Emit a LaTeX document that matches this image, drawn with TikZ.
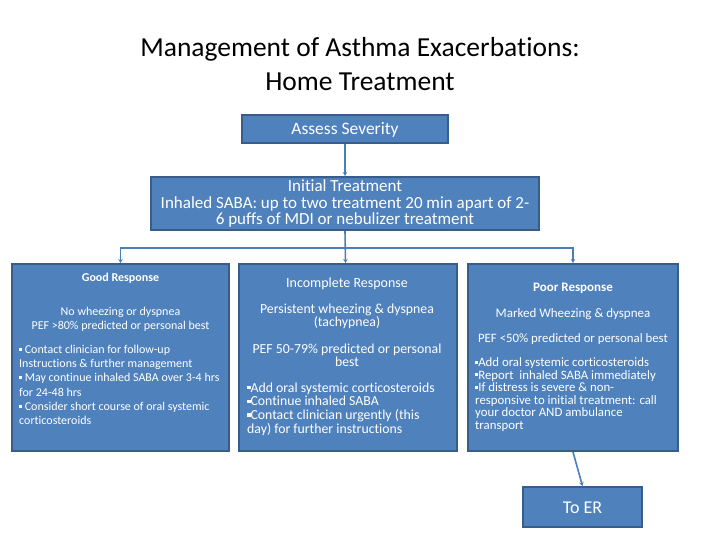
\documentclass[tikz,border=0pt]{standalone}
\usepackage{fontspec}
\setmainfont{Carlito}[Ligatures=NoCommon]
\usetikzlibrary{arrows.meta}
\definecolor{boxfill}{HTML}{4F81BD}
\definecolor{boxline}{HTML}{385D8A}
\definecolor{connc}{HTML}{4A7EBB}
\newcommand{\bsq}{\raisebox{0.22em}{\rule{0.24em}{0.24em}}}
\begin{document}
\begin{tikzpicture}[x=1pt,y=-1pt,
  box/.style={draw=boxline, fill=boxfill, line width=2.4pt, inner sep=0pt, rectangle},
  conn/.style={draw=connc, line width=1.6pt},
  arr/.style={conn, -{Stealth[length=4pt,width=4.5pt]}},
  txt/.style={text=white, inner sep=0pt, anchor=base},
  ltxt/.style={text=white, inner sep=0pt, anchor=base west, align=left},
  ctxt/.style={text=white, inner sep=0pt, anchor=base, align=center}
]
\useasboundingbox (0,0) rectangle (720,540);

% title (anchor base = baseline of the last line)
\node[anchor=base, align=center, inner sep=0pt, font=\fontsize{27.5}{34}\selectfont] (title) at (360,91) {Management of Asthma Exacerbations:\\Home Treatment};

% boxes
\node[box, minimum width=205.6pt, minimum height=27.6pt] (assess) at (345,129) {};
\node[box, minimum width=387.6pt, minimum height=52.6pt] (initial) at (345,203.5) {};
\node[box, minimum width=216.6pt, minimum height=186.6pt] (good) at (120.5,357.5) {};
\node[box, minimum width=217.6pt, minimum height=186.6pt] (incomplete) at (348,357.5) {};
\node[box, minimum width=209.6pt, minimum height=186.6pt] (poor) at (573,357.5) {};
\node[box, minimum width=118.6pt, minimum height=39.6pt] (toer) at (582.5,507) {};

% texts in boxes
\node[txt, font=\fontsize{17.5}{20}\selectfont] (assesst) at (345,134.5) {Assess Severity};
\node[ctxt, font=\fontsize{17}{16.5}\selectfont] (initialt) at (345,224.5) {Initial Treatment\\Inhaled SABA: up to two treatment 20 min apart of 2-\\6 puffs of MDI or nebulizer treatment};
\node[txt, font=\fontsize{18}{20}\selectfont] (toert) at (582.5,513) {To ER};

% good
\node[txt, font=\bfseries\fontsize{12}{14}\selectfont] (goodh) at (120.5,281) {Good Response};
\node[ctxt, font=\fontsize{12}{14}\selectfont] (goodc) at (120.5,329) {No wheezing or dyspnea\\PEF {>}80\% predicted or personal best};
\node[ltxt, font=\fontsize{12}{14.2}\selectfont] (goodb) at (19,424.5) {\bsq\ Contact clinician for follow-up\\Instructions \& further management\\\bsq\ May continue inhaled SABA over 3-4 hrs\\for 24-48 hrs\\\bsq\ Consider short course of oral systemic\\corticosteroids};

% incomplete
\node[txt, font=\fontsize{14}{14}\selectfont] (inch) at (347,287) {Incomplete Response};
\node[ctxt, font=\fontsize{13.8}{13}\selectfont] (incc1) at (347,326.5) {Persistent wheezing \& dyspnea\\(tachypnea)};
\node[ctxt, font=\fontsize{13.8}{13}\selectfont] (incc2) at (347,366) {PEF 50-79\% predicted or personal\\best};
\node[ltxt, font=\fontsize{13.8}{13.8}\selectfont] (incb) at (247,433.5) {\bsq Add oral systemic corticosteroids\\\bsq Continue inhaled SABA\\\bsq Contact clinician urgently (this\\day) for further instructions};

% poor
\node[txt, font=\bfseries\fontsize{13}{14}\selectfont] (poorh) at (573,291.5) {Poor Response};
\node[txt, font=\fontsize{13}{14}\selectfont] (poorc1) at (573,317) {Marked Wheezing \& dyspnea};
\node[txt, font=\fontsize{12.8}{14}\selectfont] (poorc2) at (573,342) {PEF {<}50\% predicted or personal best};
\node[ltxt, font=\fontsize{12.8}{12.5}\selectfont] (poorb) at (475,429) {\bsq Add oral systemic corticosteroids\\\bsq Report\ \ inhaled SABA immediately\\\bsq If distress is severe \& non-\\responsive to initial treatment: call\\your doctor AND ambulance\\transport};

% connectors
\draw[arr] (assess.south) -- (initial.north);
\coordinate (bus) at (345.5,248);
\draw[arr] (initial.south) -- (incomplete.north -| bus);
\draw[arr] (bus) -| (good.north);
\draw[arr] (bus) -| (poor.north);
\draw[arr] (poor.south) -- (toer.north);
\end{tikzpicture}
\end{document}
